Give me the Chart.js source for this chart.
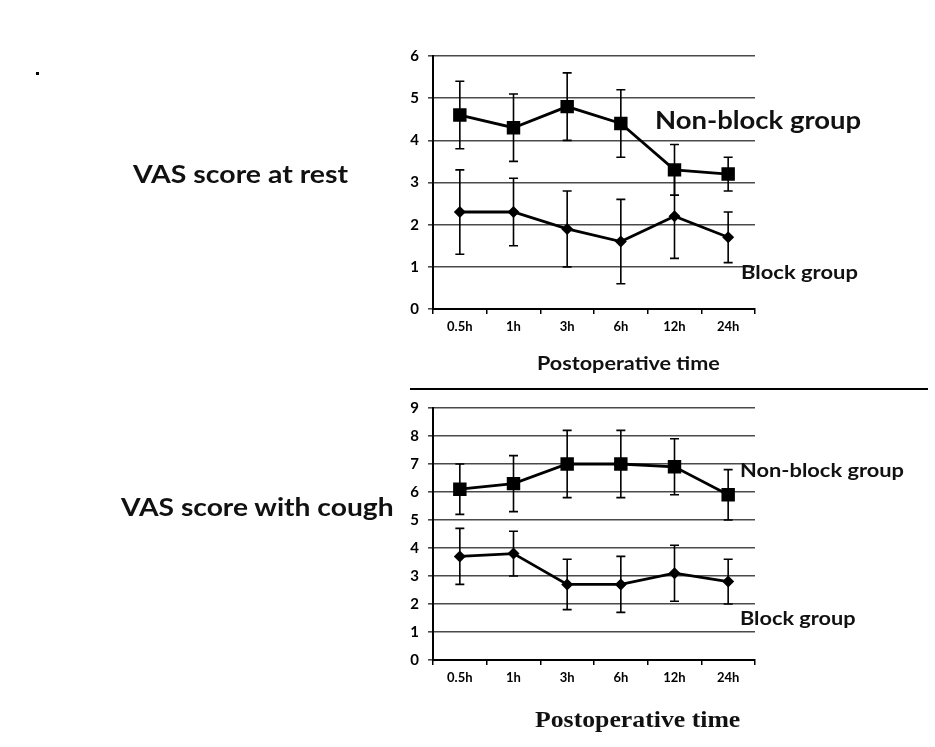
<!DOCTYPE html>
<html>
<head>
<meta charset="utf-8">
<script src="https://cdn.jsdelivr.net/npm/chart.js@4"></script>
<style>
  body { margin: 0; background: #fff; width: 935px; height: 747px; position: relative; overflow: hidden; font-family: Lato, sans-serif; }
  canvas { position: absolute; left: 0; }
  .lbl { position: absolute; font-weight: bold; color: #111; white-space: nowrap; line-height: 1; transform: scaleX(1.12); transform-origin: left center; }
</style>
</head>
<body>
<canvas id="chart-rest" width="935" height="388" style="top:0"></canvas>
<canvas id="chart-cough" width="935" height="357" style="top:390px"></canvas>

<div style="position:absolute;left:36px;top:72px;width:3px;height:3px;background:#000"></div>
<div class="lbl" style="left:133px;top:161px;font-size:25.4px">VAS score at rest</div>
<div class="lbl" style="left:121px;top:494px;font-size:25.2px">VAS score with cough</div>
<div class="lbl" style="left:655px;top:108px;font-size:24.5px">Non-block group</div>
<div class="lbl" style="left:741px;top:262px;font-size:19.6px">Block group</div>
<div class="lbl" style="left:740px;top:460px;font-size:19.5px">Non-block group</div>
<div class="lbl" style="left:740px;top:608px;font-size:19.4px">Block group</div>
<div class="lbl" style="left:537px;top:353px;font-size:19.3px">Postoperative time</div>
<div class="lbl" style="left:535px;top:708px;font-size:23px;font-family:'Liberation Serif',serif">Postoperative time</div>
<div style="position:absolute;left:410px;top:388px;width:518px;height:2px;background:#000"></div>

<script>
const categories = ['0.5h', '1h', '3h', '6h', '12h', '24h'];

const restNonBlock = [4.6, 4.3, 4.8, 4.4, 3.3, 3.2];
const restNonBlockLow = [3.8, 3.5, 4.0, 3.6, 2.7, 2.8];
const restNonBlockHigh = [5.4, 5.1, 5.6, 5.2, 3.9, 3.6];
const restBlock = [2.3, 2.3, 1.9, 1.6, 2.2, 1.7];
const restBlockLow = [1.3, 1.5, 1.0, 0.6, 1.2, 1.1];
const restBlockHigh = [3.3, 3.1, 2.8, 2.6, 3.2, 2.3];

const coughNonBlock = [6.1, 6.3, 7.0, 7.0, 6.9, 5.9];
const coughNonBlockLow = [5.2, 5.3, 5.8, 5.8, 5.9, 5.0];
const coughNonBlockHigh = [7.0, 7.3, 8.2, 8.2, 7.9, 6.8];
const coughBlock = [3.7, 3.8, 2.7, 2.7, 3.1, 2.8];
const coughBlockLow = [2.7, 3.0, 1.8, 1.7, 2.1, 2.0];
const coughBlockHigh = [4.7, 4.6, 3.6, 3.7, 4.1, 3.6];

// error bars drawn from the dataset's low/high arrays, under the markers
const errorBars = {
  id: 'errorBars',
  beforeDatasetsDraw(chart) {
    const { ctx, scales: { y } } = chart;
    ctx.save();
    ctx.strokeStyle = '#000';
    ctx.lineWidth = 1.6;
    chart.data.datasets.forEach((ds, di) => {
      chart.getDatasetMeta(di).data.forEach((pt, i) => {
        const top = y.getPixelForValue(ds.high[i]);
        const bottom = y.getPixelForValue(ds.low[i]);
        ctx.beginPath();
        ctx.moveTo(pt.x, top);
        ctx.lineTo(pt.x, bottom);
        ctx.moveTo(pt.x - 4.5, top);
        ctx.lineTo(pt.x + 4.5, top);
        ctx.moveTo(pt.x - 4.5, bottom);
        ctx.lineTo(pt.x + 4.5, bottom);
        ctx.stroke();
      });
    });
    ctx.restore();
  }
};

function makeChart(id, yMax, nonBlock, block, pad, axisHeight) {
  return new Chart(document.getElementById(id), {
    type: 'line',
    plugins: [errorBars],
    data: {
      labels: categories,
      datasets: [
        {
          label: 'Non-block group',
          data: nonBlock.values,
          low: nonBlock.low,
          high: nonBlock.high,
          borderColor: '#000',
          backgroundColor: '#000',
          borderWidth: 2.8,
          pointStyle: 'rect',
          pointRadius: 9.5,
          pointBorderWidth: 0,
          tension: 0
        },
        {
          label: 'Block group',
          data: block.values,
          low: block.low,
          high: block.high,
          borderColor: '#000',
          backgroundColor: '#000',
          borderWidth: 2.8,
          pointStyle: 'rectRot',
          pointRadius: 6,
          pointBorderWidth: 0,
          tension: 0
        }
      ]
    },
    options: {
      responsive: false,
      animation: false,
      events: [],
      layout: { padding: { left: 0, top: pad.top, right: pad.right, bottom: 0 } },
      plugins: {
        legend: { display: false },
        tooltip: { enabled: false }
      },
      scales: {
        x: {
          offset: true,
          grid: {
            offset: true,
            drawOnChartArea: false,
            tickLength: 5,
            color: '#000',
            lineWidth: 1.5
          },
          border: { color: '#000', width: 2 },
          ticks: {
            color: '#000',
            padding: 5,
            font: { family: 'Lato', size: 13, weight: 'bold' }
          },
          afterFit(scale) { scale.height = axisHeight; }
        },
        y: {
          min: 0,
          max: yMax,
          ticks: {
            stepSize: 1,
            color: '#000',
            padding: 9,
            font: { family: 'Lato', size: 15, weight: 'bold' }
          },
          grid: { color: '#4a4a4a', lineWidth: 1.6, tickLength: 5 },
          border: { color: '#000', width: 2 },
          afterFit(scale) { scale.width = 433; }
        }
      }
    }
  });
}

makeChart('chart-rest', 6,
  { values: restNonBlock, low: restNonBlockLow, high: restNonBlockHigh },
  { values: restBlock, low: restBlockLow, high: restBlockHigh },
  { top: 56, right: 180 }, 79);

makeChart('chart-cough', 9,
  { values: coughNonBlock, low: coughNonBlockLow, high: coughNonBlockHigh },
  { values: coughBlock, low: coughBlockLow, high: coughBlockHigh },
  { top: 17, right: 180 }, 87);
</script>
</body>
</html>
